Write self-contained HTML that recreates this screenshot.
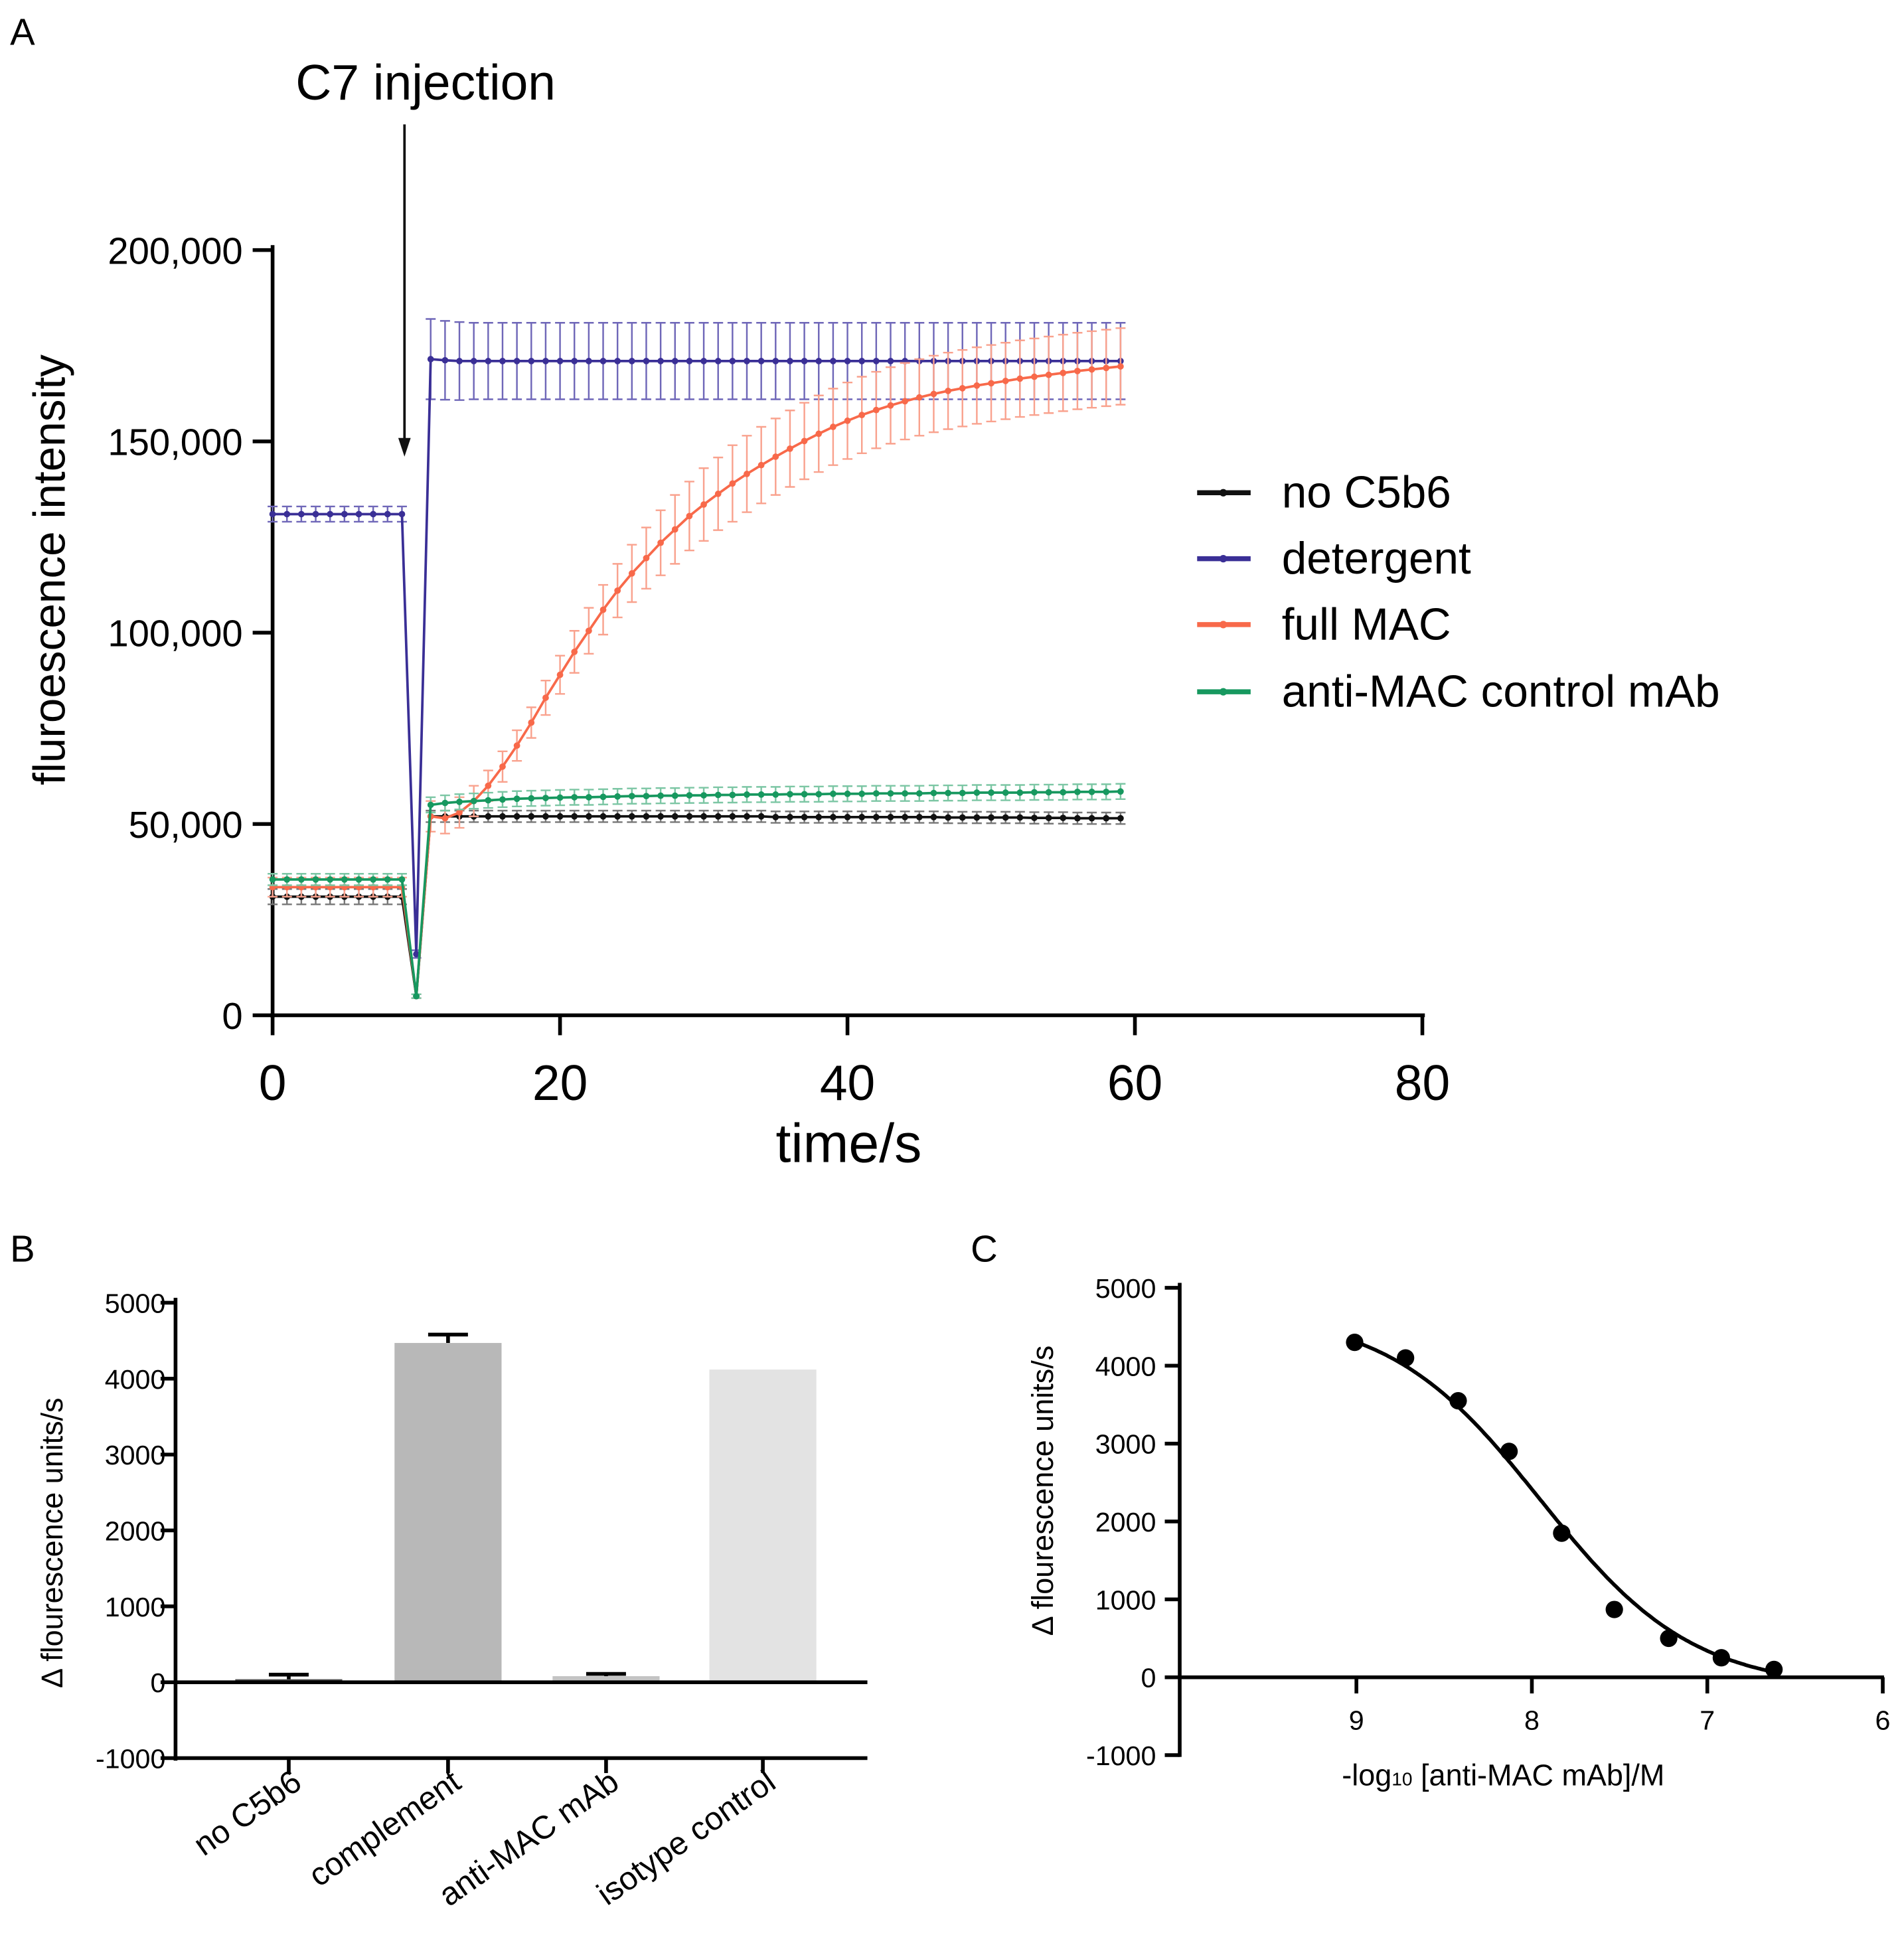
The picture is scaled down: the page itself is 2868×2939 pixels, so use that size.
<!DOCTYPE html>
<html><head><meta charset="utf-8"><style>
html,body{margin:0;padding:0;background:#fff;}
svg{display:block;font-family:"Liberation Sans",sans-serif;}
</style></head><body>
<svg id="fig" width="2868" height="2939" viewBox="0 0 1530 1568" xmlns="http://www.w3.org/2000/svg">
<g id="pa"></g>
<g id="pb"></g>
<g id="pc"></g>
</svg>
<script>
// ---------- Panel A data ----------
const timeA = [];
for (let i = 0; i < 60; i++) timeA.push(i);
const seriesNames = ["no C5b6","detergent","full MAC","anti-MAC control mAb"];
const noC5b6 = [31000,31000,31000,31000,31000,31000,31000,31000,31000,31000,5000,52000,52000,52000,52000,52000,52000,52000,52000,52000,52000,52000,52000,52000,52000,52000,52000,52000,52000,52000,52000,52000,52000,52000,52000,51800,51800,51800,51800,51800,51800,51800,51800,51800,51800,51800,51800,51700,51700,51700,51700,51700,51700,51600,51600,51600,51500,51500,51500,51500];
const noC5b6Err = [2000,2000,2000,2000,2000,2000,2000,2000,2000,2000,500,1500,1500,1500,1500,1500,1500,1500,1500,1500,1500,1500,1500,1500,1500,1500,1500,1500,1500,1500,1500,1500,1500,1500,1500,1500,1500,1500,1500,1500,1500,1500,1500,1500,1500,1500,1500,1500,1500,1500,1500,1500,1500,1500,1500,1500,1500,1500,1500,1500];
const detergent = [131000,131000,131000,131000,131000,131000,131000,131000,131000,131000,16000,171500,171200,171000,171000,171000,171000,171000,171000,171000,171000,171000,171000,171000,171000,171000,171000,171000,171000,171000,171000,171000,171000,171000,171000,171000,171000,171000,171000,171000,171000,171000,171000,171000,171000,171000,171000,171000,171000,171000,171000,171000,171000,171000,171000,171000,171000,171000,171000,171000];
const detergentErr = [2000,2000,2000,2000,2000,2000,2000,2000,2000,2000,1000,10500,10300,10200,10000,10000,10000,10000,10000,10000,10000,10000,10000,10000,10000,10000,10000,10000,10000,10000,10000,10000,10000,10000,10000,10000,10000,10000,10000,10000,10000,10000,10000,10000,10000,10000,10000,10000,10000,10000,10000,10000,10000,10000,10000,10000,10000,10000,10000,10000];
const fullMAC = [33500,33500,33500,33500,33500,33500,33500,33500,33500,33500,5000,52000,51500,53000,56000,60000,65000,70500,76500,83000,89000,95000,100500,106000,111000,115500,119500,123500,127000,130500,133500,136300,139000,141500,143800,146000,148100,150100,152000,153800,155400,156900,158200,159400,160500,161500,162400,163200,163900,164600,165200,165800,166400,166900,167400,167900,168400,168800,169200,169600];
const fullMACErr = [2500,2500,2500,2500,2500,2500,2500,2500,2500,2500,500,4000,4000,4000,4000,4000,4000,4000,4000,4500,5000,5500,6000,6500,7000,7500,8000,8500,9000,9000,9500,9500,10000,10000,10000,10000,10000,10000,10000,10000,10000,10000,10000,10000,10000,10000,10000,10000,10000,10000,10000,10000,10000,10000,10000,10000,10000,10000,10000,10000];
const antiMAC = [35500,35500,35500,35500,35500,35500,35500,35500,35500,35500,5000,55000,55500,55800,56000,56200,56400,56600,56700,56800,56900,57000,57000,57100,57200,57300,57300,57400,57400,57500,57500,57600,57600,57700,57700,57700,57800,57800,57800,57900,57900,57900,58000,58000,58000,58000,58100,58100,58100,58200,58200,58200,58200,58300,58300,58300,58400,58400,58400,58500];
const antiMACErr = [1500,1500,1500,1500,1500,1500,1500,1500,1500,1500,500,2000,2000,2000,2000,2000,2000,2000,2000,2000,2000,2000,2000,2000,2000,2000,2000,2000,2000,2000,2000,2000,2000,2000,2000,2000,2000,2000,2000,2000,2000,2000,2000,2000,2000,2000,2000,2000,2000,2000,2000,2000,2000,2000,2000,2000,2000,2000,2000,2000];
const yTicksA = [0,50000,100000,150000,200000];
const yTickLabelsA = ["0","50,000","100,000","150,000","200,000"];
const xTicksA = [0,20,40,60,80];

// ---------- Panel B data ----------
const catsB = ["no C5b6","complement","anti-MAC mAb","isotype control"];
const valsB = [40,4470,80,4120];
const errB = [60,110,30,0];
const colorsB = ["#555","#b8b8b8","#c4c4c4","#e3e3e3"];
const yTicksB = [-1000,0,1000,2000,3000,4000,5000];

// ---------- Panel C data ----------
const xC = [9.01,8.72,8.42,8.13,7.83,7.53,7.22,6.92,6.62];
const yC = [4300,4100,3550,2900,1850,870,500,250,100];
const fitTop = 4700, fitBottom = -150, fitLogEC50 = 7.95, fitHill = 1.0;
const yTicksC = [-1000,0,1000,2000,3000,4000,5000];
const xTicksC = [9,8,7,6];

const NS = "http://www.w3.org/2000/svg";
function mk(parent, tag, attrs, text) {
  const e = document.createElementNS(NS, tag);
  for (const k in attrs) e.setAttribute(k, attrs[k]);
  if (text !== undefined) e.textContent = text;
  parent.appendChild(e);
  return e;
}

// ===== Panel A =====
const pa = document.getElementById('pa');
const ax = t => 219 + (t / 80) * (1143 - 219);
const ay = v => 816 - (v / 200000) * (816 - 201);
let el;
el = mk(pa,'text',{x:8,y:36,'font-size':30}, 'A');
 
el = mk(pa,'text',{x:342,y:80,'font-size':40,'text-anchor':'middle'}, 'C7 injection');
 
el = mk(pa,'line',{x1:325,y1:100,x2:325,y2:358,stroke:'#111','stroke-width':2});
 
mk(pa,'path',{d:'M320,352 L325,367 L330,352 Z',fill:'#111'});
el = mk(pa,'line',{x1:219,y1:197,x2:219,y2:818,stroke:'#000','stroke-width':3});
 
el = mk(pa,'line',{x1:217,y1:816,x2:1145,y2:816,stroke:'#000','stroke-width':3});
 
yTicksA.forEach((v,i)=>{
  mk(pa,'line',{x1:203,y1:ay(v),x2:219,y2:ay(v),stroke:'#000','stroke-width':3});
  const t = mk(pa,'text',{x:195,y:ay(v)+11,'font-size':30,'text-anchor':'end'}, yTickLabelsA[i]);
   
});
xTicksA.forEach(v=>{
  mk(pa,'line',{x1:ax(v),y1:816,x2:ax(v),y2:832,stroke:'#000','stroke-width':3});
  const t = mk(pa,'text',{x:ax(v),y:884,'font-size':40,'text-anchor':'middle'}, String(v));
   
});
el = mk(pa,'text',{x:682,y:934,'font-size':44,'text-anchor':'middle'}, 'time/s');
 
el = mk(pa,'text',{x:52,y:458,'font-size':36,'text-anchor':'middle',transform:'rotate(-90 52 458)'}, 'fluroescence intensity');
 

const seriesA = [
  {v:noC5b6,e:noC5b6Err,c:'#111',ec:'#777',name:'series-no-c5b6'},
  {v:detergent,e:detergentErr,c:'#3a2f96',ec:'#6f67b8',name:'series-detergent'},
  {v:fullMAC,e:fullMACErr,c:'#f8694a',ec:'#f9a28e',name:'series-full-mac'},
  {v:antiMAC,e:antiMACErr,c:'#17985f',ec:'#7cc6a4',name:'series-anti-mac'}
];
seriesA.forEach(s=>{
  const g = mk(pa,'g',{});
  
  
  let d='';
  timeA.forEach((t,i)=>{
    const x=ax(t), lo=ay(s.v[i]-s.e[i]), hi=ay(s.v[i]+s.e[i]);
    mk(g,'path',{d:`M${x},${lo}L${x},${hi}M${x-4},${lo}L${x+4},${lo}M${x-4},${hi}L${x+4},${hi}`,stroke:s.ec,'stroke-width':1.3,fill:'none'});
    d += (i?'L':'M')+x+','+ay(s.v[i]);
  });
  const ln = mk(g,'path',{d:d,stroke:s.c,'stroke-width':2,fill:'none'});
  
  
  timeA.forEach((t,i)=>{
    const p = mk(g,'circle',{cx:ax(t),cy:ay(s.v[i]),r:2.6,fill:s.c});
    
    
  });
});
const legY=[396,449,502,556];
seriesA.forEach((s,i)=>{
  const g = mk(pa,'g',{});
  
  
  mk(g,'line',{x1:962,y1:legY[i],x2:1005,y2:legY[i],stroke:s.c,'stroke-width':4});
  mk(g,'circle',{cx:983,cy:legY[i],r:3,fill:s.c});
  mk(g,'text',{x:1030,y:legY[i]+12,'font-size':36}, seriesNames[i]);
});

// ===== Panel B =====
const pb = document.getElementById('pb');
const by = v => 1352 - (v/1000)*61;
const bx = [232,360,487,613];
el = mk(pb,'text',{x:8,y:1014,'font-size':30}, 'B');
 
valsB.forEach((v,i)=>{
  const r = mk(pb,'rect',{x:bx[i]-43,y:Math.min(by(v),by(0)),width:86,height:Math.abs(by(v)-by(0)),fill:colorsB[i]});
  
  
  if (errB[i]>0) {
    const top = by(v+errB[i]);
    mk(pb,'path',{d:`M${bx[i]},${by(v)}L${bx[i]},${top}M${bx[i]-16},${top}L${bx[i]+16},${top}`,stroke:'#000','stroke-width':3,fill:'none'});
  }
});
el = mk(pb,'line',{x1:141,y1:1043,x2:141,y2:1415,stroke:'#000','stroke-width':3});
 
el = mk(pb,'line',{x1:141,y1:1352,x2:697,y2:1352,stroke:'#000','stroke-width':3});
 
el = mk(pb,'line',{x1:141,y1:1413,x2:697,y2:1413,stroke:'#000','stroke-width':3});
 
yTicksB.forEach(v=>{
  mk(pb,'line',{x1:129,y1:by(v),x2:141,y2:by(v),stroke:'#000','stroke-width':3});
  const t = mk(pb,'text',{x:133,y:by(v)+8,'font-size':22,'text-anchor':'end'}, String(v));
   
});
catsB.forEach((c,i)=>{
  mk(pb,'line',{x1:bx[i],y1:1413,x2:bx[i],y2:1425,stroke:'#000','stroke-width':3});
  const x=bx[i]+12, y=1436;
  const t = mk(pb,'text',{x:x,y:y,'font-size':26,'text-anchor':'end',transform:`rotate(-35 ${x} ${y})`}, c);
   
});
el = mk(pb,'text',{x:50,y:1240,'font-size':24,'text-anchor':'middle',transform:'rotate(-90 50 1240)'}, 'Δ flourescence units/s');
 

// ===== Panel C =====
const pc = document.getElementById('pc');
const cx = v => 1090 + (9 - v)*141;
const cy = v => 1348 - (v/1000)*62.6;
el = mk(pc,'text',{x:780,y:1014,'font-size':30}, 'C');
 
el = mk(pc,'line',{x1:948,y1:1031,x2:948,y2:1412,stroke:'#000','stroke-width':3});
 
el = mk(pc,'line',{x1:948,y1:1348,x2:1514,y2:1348,stroke:'#000','stroke-width':3});
 
yTicksC.forEach(v=>{
  mk(pc,'line',{x1:936,y1:cy(v),x2:948,y2:cy(v),stroke:'#000','stroke-width':3});
  const t = mk(pc,'text',{x:929,y:cy(v)+8,'font-size':22,'text-anchor':'end'}, String(v));
   
});
xTicksC.forEach(v=>{
  mk(pc,'line',{x1:cx(v),y1:1348,x2:cx(v),y2:1361,stroke:'#000','stroke-width':3});
  const t = mk(pc,'text',{x:cx(v),y:1390,'font-size':22,'text-anchor':'middle'}, String(v));
   
});
el = mk(pc,'text',{x:1208,y:1435,'font-size':24,'text-anchor':'middle'});
 
el.innerHTML = '-log<tspan font-size="15">10</tspan> [anti-MAC mAb]/M';
el = mk(pc,'text',{x:846,y:1198,'font-size':24,'text-anchor':'middle',transform:'rotate(-90 846 1198)'}, 'Δ flourescence units/s');
 
let dc='';
let first=true;
for (let x=9.03; x>=6.62; x-=0.01) {
  const y = fitBottom + (fitTop-fitBottom)/(1+Math.pow(10, fitHill*(fitLogEC50 - x)));
  if (y < 0) break;
  dc += (first?'M':'L')+cx(x).toFixed(1)+','+cy(y).toFixed(1);
  first=false;
}
el = mk(pc,'path',{d:dc,stroke:'#000','stroke-width':3,fill:'none'});
 
xC.forEach((x,i)=>{
  const p = mk(pc,'circle',{cx:cx(x),cy:cy(yC[i]),r:7,fill:'#000'});
  
  
});
</script>
</body></html>
